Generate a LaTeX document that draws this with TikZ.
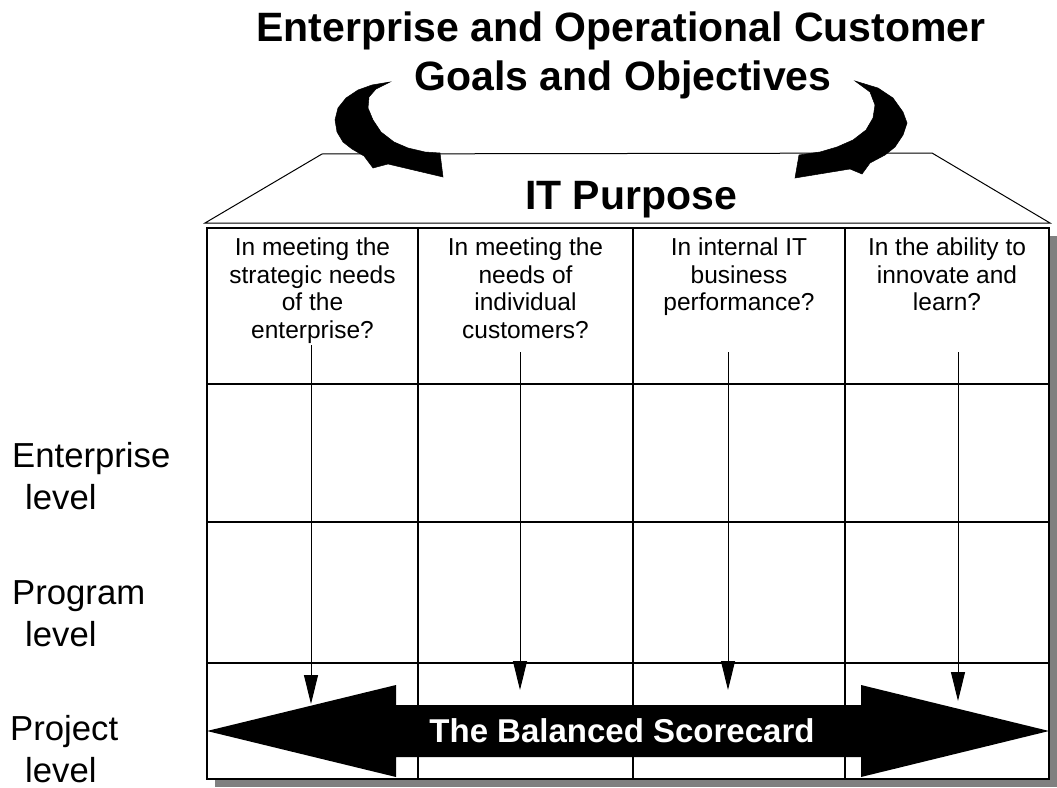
\documentclass[tikz,border=0pt]{standalone}
\usepackage{fontspec}
\setmainfont{Liberation Sans}
\usetikzlibrary{arrows.meta}
\begin{document}
\begin{tikzpicture}[x=1bp,y=-1bp,
  gridline/.style={line width=1.4bp,black},
  trapline/.style={line width=1bp,black,fill=white},
  downarrow/.style={line width=1bp,-{Triangle[length=29bp,width=14bp]}},
  blockarrow/.style={fill=black,draw=black,line width=0.5bp,line join=miter},
  titletext/.style={font=\bfseries\fontsize{41bp}{49bp}\selectfont,inner sep=0pt,anchor=base},
  headtext/.style={font=\fontsize{24.5bp}{27.5bp}\selectfont,align=center,inner sep=0pt,anchor=north},
  lvltext/.style={font=\fontsize{34.7bp}{41bp}\selectfont,inner sep=0pt,anchor=base west},
]
\useasboundingbox (0,0) rectangle (1057,788);

% shadow and grid
\fill[black!50] (215,236) rectangle (1057,787);
\draw[gridline,fill=white] (207,228) rectangle (1049,779);
\draw[gridline] (418,228) -- (418,779);
\draw[gridline] (633,228) -- (633,779);
\draw[gridline] (845,228) -- (845,779);
\draw[gridline] (207,384) -- (1049,384);
\draw[gridline] (207,522) -- (1049,522);
\draw[gridline] (207,663) -- (1049,663);

% trapezoid roof
\draw[trapline] (205,223) -- (322,154) -- (932,153) -- (1050,223) -- cycle;

% curved arrows
\draw[blockarrow] (390,82) -- (372,85) -- (358,90) -- (346,98) -- (338,108) -- (335,120) -- (337,132) -- (343,142) -- (352,149) -- (364,156) -- (373,168) -- (388,164) -- (443,177) -- (440,153) -- (425,152) -- (408,148) -- (394,142) -- (381,132) -- (373,120) -- (368,108) -- (369,97) -- (376,89) -- cycle;
\draw[blockarrow] (855,81) -- (878,88) -- (893,98) -- (903,112) -- (907,123) -- (903,135) -- (895,147) -- (885,155) -- (870,163) -- (862,174) -- (850,169) -- (795,178) -- (799,155) -- (820,152) -- (837,147) -- (853,140) -- (866,130) -- (873,118) -- (875,105) -- (870,92) -- cycle;

% titles
\node[titletext] (t1) at (621,42) {Enterprise and Operational Customer};
\node[titletext] (t2) at (623,91) {Goals and Objectives};
\node[titletext] (itp) at (631,209) {IT Purpose};

% column headers
\node[headtext] (h1) at (312.5,238) {In meeting the\\strategic needs\\of the\\enterprise?};
\node[headtext] (h2) at (525.5,238) {In meeting the\\needs of\\individual\\customers?};
\node[headtext] (h3) at (739,238) {In internal IT\\business\\performance?};
\node[headtext] (h4) at (947,238) {In the ability to\\innovate and\\learn?};

% vertical arrows
\coordinate (a1s) at (311,345); \coordinate (a1e) at (311,704);
\coordinate (a2s) at (520,352); \coordinate (a2e) at (520,690);
\coordinate (a3s) at (728,352); \coordinate (a3e) at (728,690);
\coordinate (a4s) at (958,352); \coordinate (a4e) at (958,701);
\draw[downarrow] (a1s) -- (a1e);
\draw[downarrow] (a2s) -- (a2e);
\draw[downarrow] (a3s) -- (a3e);
\draw[downarrow] (a4s) -- (a4e);

% balanced scorecard double arrow
\fill[black] (207,731) -- (396,685) -- (396,705) -- (861,705) -- (861,685) -- (1049,731) -- (861,777) -- (861,757) -- (396,757) -- (396,777) -- cycle;
\node[font=\bfseries\fontsize{33bp}{38bp}\selectfont,text=white,inner sep=0pt] (bsc) at (622,731) {The Balanced Scorecard};

% level labels
\node[lvltext] (l1a) at (12,467) {Enterprise};
\node[lvltext] (l1b) at (25,509) {level};
\node[lvltext] (l2a) at (12,604) {Program};
\node[lvltext] (l2b) at (25,646) {level};
\node[lvltext] (l3a) at (10,740) {Project};
\node[lvltext] (l3b) at (25,782) {level};
\end{tikzpicture}
\end{document}
